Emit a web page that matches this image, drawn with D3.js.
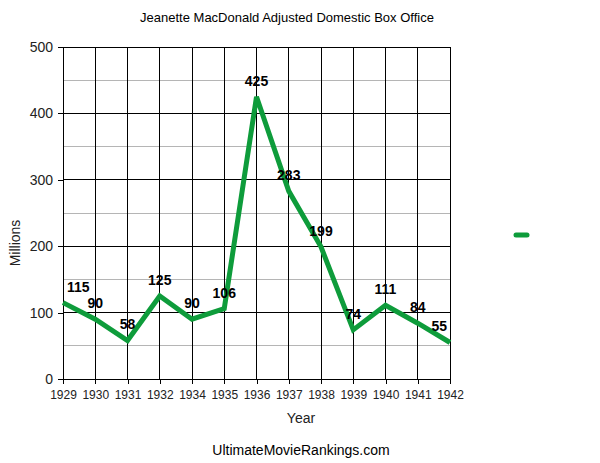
<!DOCTYPE html>
<html><head><meta charset="utf-8">
<script src="https://cdn.jsdelivr.net/npm/d3@7"></script>
<style>body{margin:0;background:#fff;font-family:Arial,"Liberation Sans",sans-serif;}</style>
</head><body><svg id="c" width="600" height="463"></svg>
<script>
const years = ["1929","1930","1931","1932","1934","1935","1936","1937","1938","1939","1940","1941","1942"];
const values = [115,90,58,125,90,106,425,283,199,74,111,84,55];
const yTicks = [0,100,200,300,400,500];
const yMinor = [50,150,250,350,450];
const titleText = "Jeanette MacDonald Adjusted Domestic Box Office";

const svg = d3.select("#c");
const L=63,R=450,T=47,B=379;
const x = d3.scalePoint().domain(years).range([L,R]);
const y = d3.scaleLinear().domain([0,500]).range([B,T]);
const green="#0e9c3b";
const font="Arial, 'Liberation Sans', sans-serif";

svg.append("g").selectAll("line").data(yMinor).join("line")
  .attr("x1",L).attr("x2",R).attr("y1",d=>y(d)).attr("y2",d=>y(d))
  .attr("stroke","#b5b5b5").attr("stroke-width",1).attr("shape-rendering","crispEdges");
svg.append("g").selectAll("line").data(yTicks).join("line")
  .attr("x1",L).attr("x2",R).attr("y1",d=>y(d)).attr("y2",d=>y(d))
  .attr("stroke","#000").attr("stroke-width",1).attr("shape-rendering","crispEdges");
svg.append("g").selectAll("line").data(years).join("line")
  .attr("x1",d=>x(d)).attr("x2",d=>x(d)).attr("y1",T).attr("y2",B)
  .attr("stroke","#000").attr("stroke-width",1).attr("shape-rendering","crispEdges");

const ya = svg.append("g").attr("transform",`translate(${L},0)`)
  .call(d3.axisLeft(y).tickValues(yTicks).tickSize(5).tickPadding(5));
ya.select(".domain").remove();
ya.selectAll("line").attr("stroke","#000").attr("shape-rendering","crispEdges");
ya.selectAll("text").attr("font-size","14px").attr("font-family",font).attr("fill","#222");

const xa = svg.append("g").attr("transform",`translate(0,${B})`)
  .call(d3.axisBottom(x).tickSize(5).tickPadding(6));
xa.select(".domain").remove();
xa.selectAll("line").attr("stroke","#000").attr("shape-rendering","crispEdges");
xa.selectAll("text").attr("font-size","12px").attr("font-family",font).attr("fill","#222");

const line = d3.line().x((d,i)=>x(years[i])).y(d=>y(d));
svg.append("path").datum(values).attr("d",line)
  .attr("fill","none").attr("stroke",green).attr("stroke-width",5).attr("stroke-linejoin","miter");

const lbl = svg.append("g").selectAll("text").data(values).join("text")
  .attr("font-size","14px").attr("font-weight","bold")
  .attr("font-family",font).attr("fill","#000")
  .attr("text-anchor","middle")
  .attr("y",d=>y(d)-11)
  .text(d=>d);
lbl.each(function(d,i){
  const w=this.getComputedTextLength();
  let cx=x(years[i]);
  cx=Math.max(L+4+w/2,Math.min(R-3-w/2,cx));
  d3.select(this).attr("x",cx);
});

svg.append("text").attr("x",287).attr("y",22).attr("text-anchor","middle")
  .attr("font-size","13px").attr("font-family",font).attr("fill","#000").text(titleText);
svg.append("text").attr("x",301).attr("y",423).attr("text-anchor","middle")
  .attr("font-size","14px").attr("font-family",font).attr("fill","#222").text("Year");
svg.append("text").attr("x",301).attr("y",455).attr("text-anchor","middle")
  .attr("font-size","14px").attr("font-family",font).attr("fill","#000").text("UltimateMovieRankings.com");
svg.append("text").attr("transform","translate(20,243) rotate(-90)").attr("text-anchor","middle")
  .attr("font-size","14px").attr("font-family",font).attr("fill","#222").text("Millions");

svg.append("line").attr("x1",516).attr("x2",527).attr("y1",235).attr("y2",235)
  .attr("stroke",green).attr("stroke-width",5).attr("stroke-linecap","round");
</script></body></html>
